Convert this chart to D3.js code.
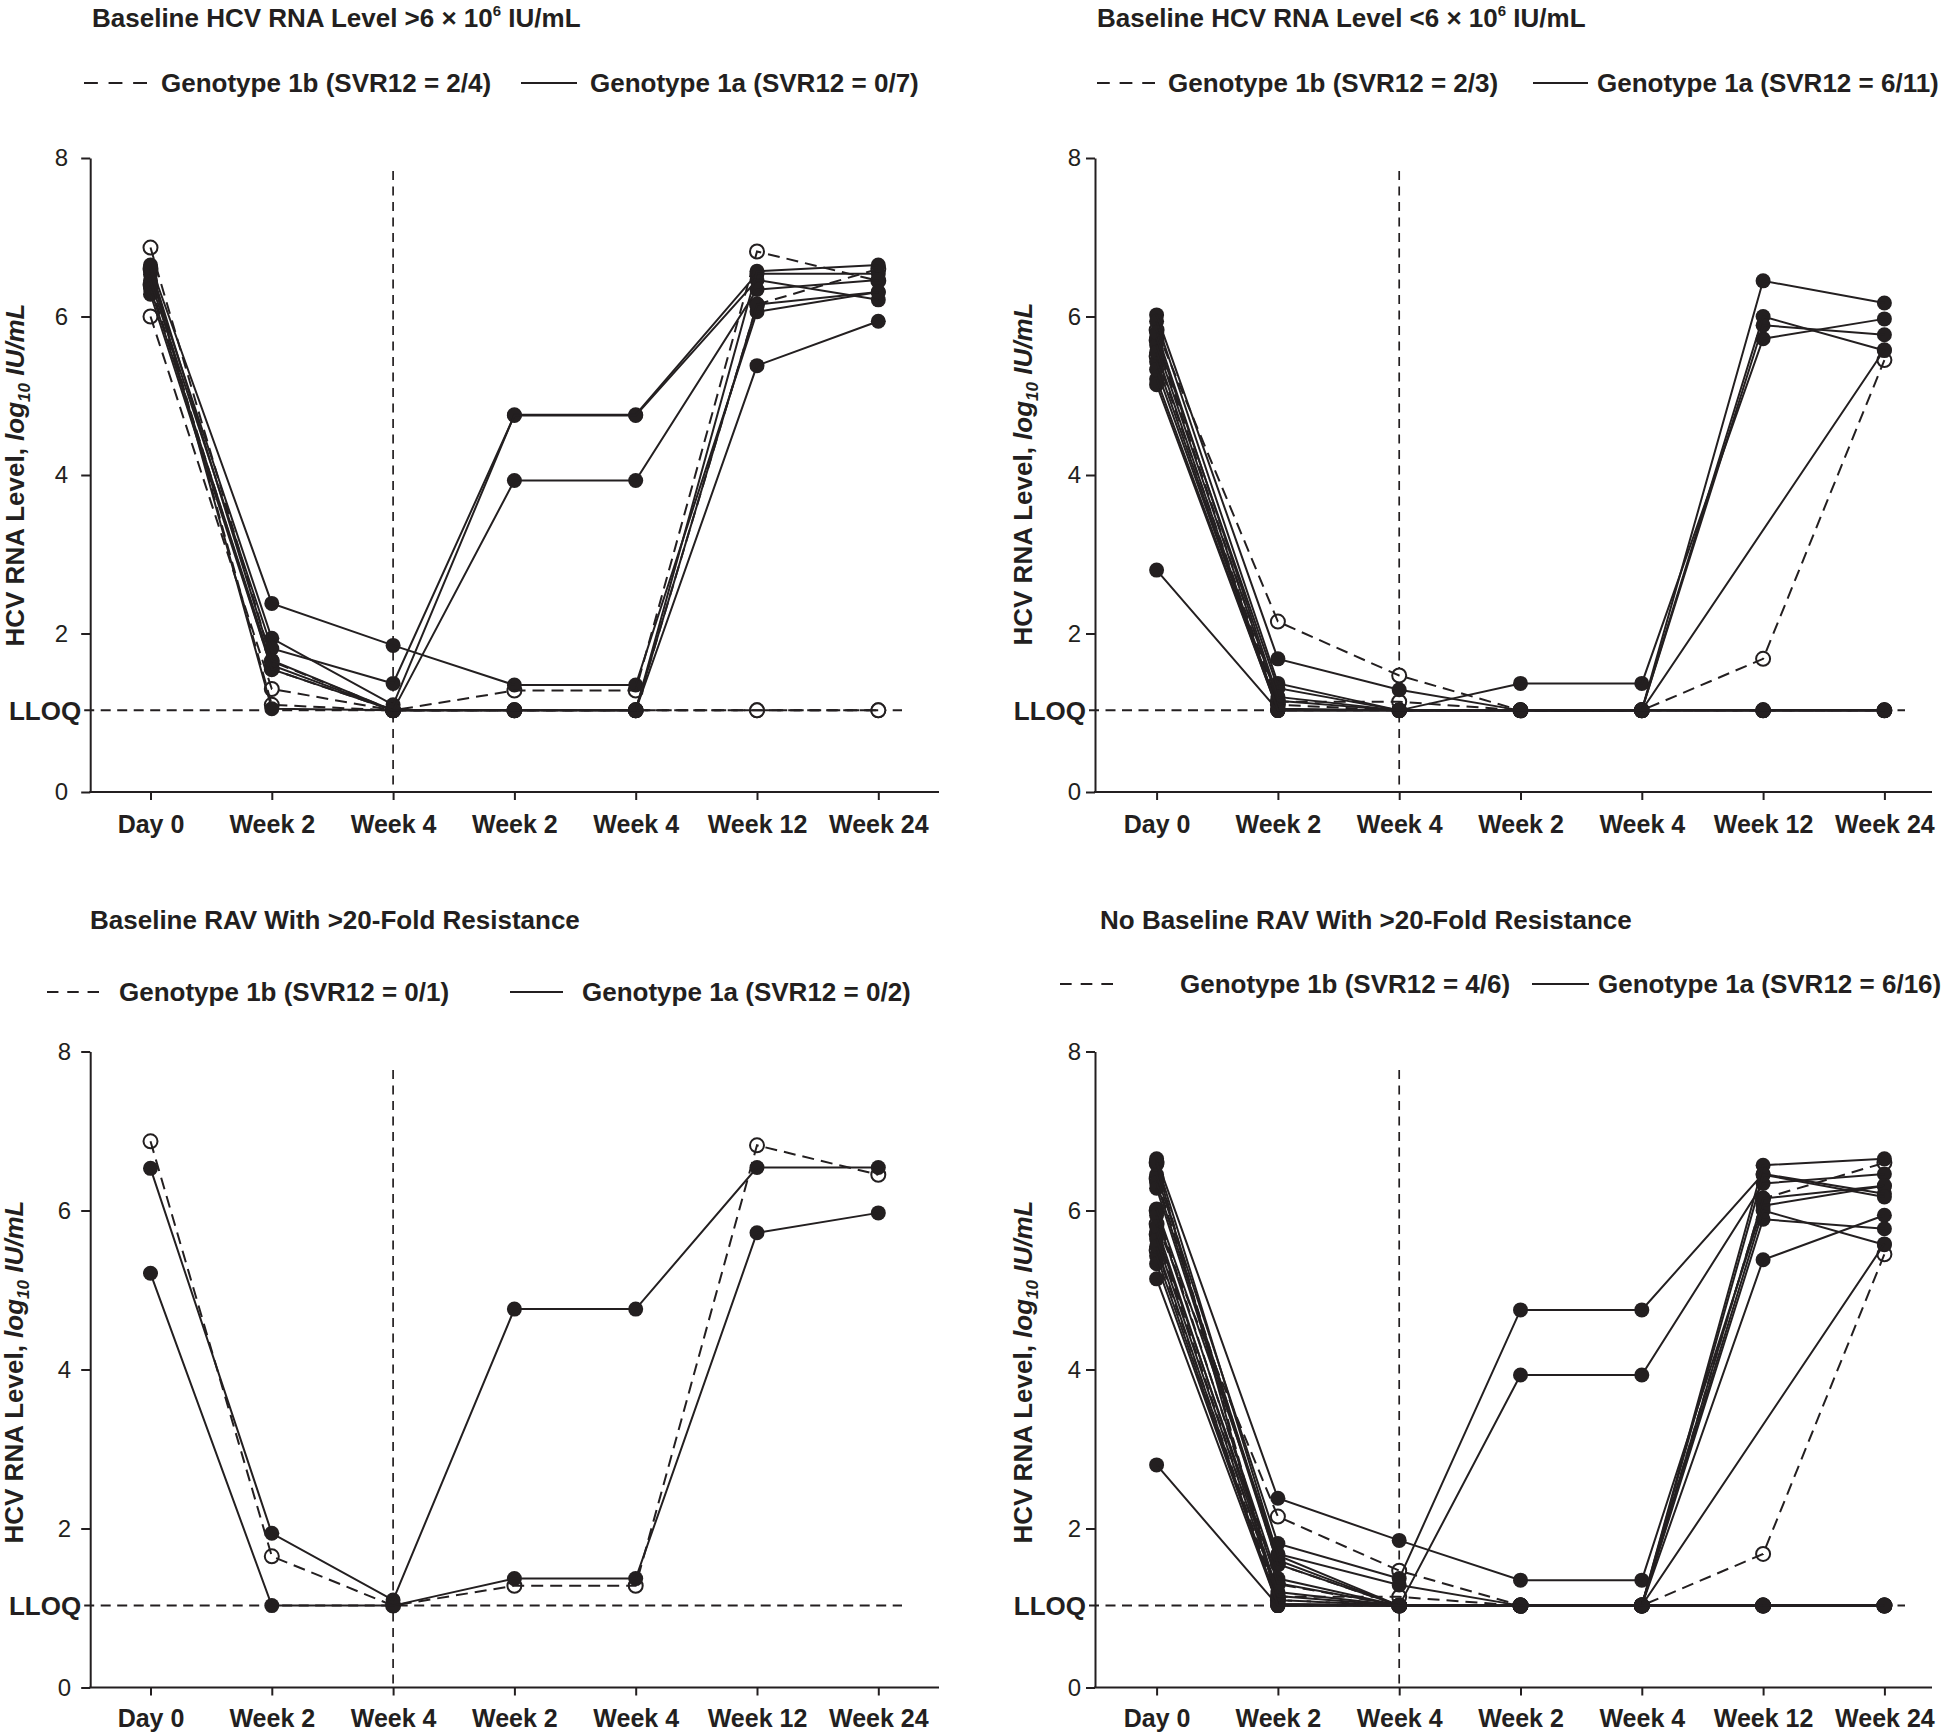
<!DOCTYPE html>
<html>
<head>
<meta charset="utf-8">
<script src="https://cdn.jsdelivr.net/npm/d3@7"></script>
<style>
html,body{margin:0;padding:0;background:#fff;}
svg{display:block;}
text{font-family:"Liberation Sans",Arial,sans-serif;fill:#231f20;}
</style>
</head>
<body>
<svg id="chart" width="1950" height="1736"></svg>
<script>
// ---------------- DATA ----------------
const LLOQ = 1.03;
const L = LLOQ;
const timepoints = ["Day 0", "Week 2", "Week 4", "Week 2", "Week 4", "Week 12", "Week 24"];
const yTicks = [0, 2, 4, 6, 8];

// values: Day 0, Wk 2, Wk 4 (on treatment), Wk 2, Wk 4, Wk 12, Wk 24 (post-treatment); null = not measured
// Genotype 1b, baseline HCV RNA >6x10^6 IU/mL
const high1b = [
  [6.87, 1.65, L, 1.28, 1.28, 6.82, 6.45],
  [6.00, 1.30, L, L, L, L, L],
  [6.60, 1.10, L, L, L, L, L],
  [6.40, 1.55, L, L, L, 6.15, 6.60]
];
const high1bRAV = [true, false, false, false];
// Genotype 1a, baseline HCV RNA >6x10^6 IU/mL
const high1a = [
  [6.53, 1.94, 1.10, 4.76, 4.76, 6.54, 6.54],
  [6.65, 2.38, 1.85, 1.35, 1.35, 6.06, 6.31],
  [6.45, 1.81, 1.37, 4.75, 4.75, 6.46, 6.21],
  [6.35, 1.60, L, 3.93, 3.93, 6.34, 6.46],
  [6.28, 1.55, L, L, L, 5.38, 5.94],
  [6.58, 1.05, L, L, L, 6.57, 6.65],
  [6.62, 1.66, L, L, L, 6.15, 6.31]
];
const high1aRAV = [true, false, false, false, false, false, false];
// Genotype 1b, baseline HCV RNA <6x10^6 IU/mL
const low1b = [
  [5.83, 2.15, 1.47, L, L, 1.68, 5.45],
  [5.70, 1.14, 1.14, L, L, L, L],
  [5.50, 1.10, L, L, L, L, L]
];
const low1bRAV = [false, false, false];
// Genotype 1a, baseline HCV RNA <6x10^6 IU/mL
const low1a = [
  [5.21, L, L, 1.37, 1.37, 5.72, 5.97],
  [6.02, 1.68, 1.29, L, L, 6.45, 6.17],
  [5.94, 1.37, L, L, L, 6.00, 5.57],
  [5.73, 1.31, L, L, L, 5.89, 5.77],
  [5.64, 1.15, L, L, L, null, 5.58],
  [5.43, L, L, L, L, L, L],
  [5.33, 1.05, L, L, L, L, L],
  [5.14, L, L, L, L, L, L],
  [2.80, L, L, L, L, L, L],
  [5.80, 1.20, L, L, L, L, L],
  [5.55, L, L, L, L, L, L]
];
const low1aRAV = [true, false, false, false, false, false, false, false, false, false, false];

const panelTitles = [
  [["Baseline HCV RNA Level >6 × 10", ""], ["6", "sup"], [" IU/mL", ""]],
  [["Baseline HCV RNA Level <6 × 10", ""], ["6", "sup"], [" IU/mL", ""]],
  [["Baseline RAV With >20-Fold Resistance", ""]],
  [["No Baseline RAV With >20-Fold Resistance", ""]]
];
const legend1b = ["Genotype 1b (SVR12 = 2/4)", "Genotype 1b (SVR12 = 2/3)", "Genotype 1b (SVR12 = 0/1)", "Genotype 1b (SVR12 = 4/6)"];
const legend1a = ["Genotype 1a (SVR12 = 0/7)", "Genotype 1a (SVR12 = 6/11)", "Genotype 1a (SVR12 = 0/2)", "Genotype 1a (SVR12 = 6/16)"];
const yLabelParts = [["HCV RNA Level, ", "normal", ""], ["log", "italic", ""], ["10", "italic", "sub"], [" IU/mL", "italic", ""]];

// ---------------- BUILD ----------------
const patients = [];
high1b.forEach((v, i) => patients.push({geno: "1b", high: true, rav: high1bRAV[i], v}));
high1a.forEach((v, i) => patients.push({geno: "1a", high: true, rav: high1aRAV[i], v}));
low1b.forEach((v, i) => patients.push({geno: "1b", high: false, rav: low1bRAV[i], v}));
low1a.forEach((v, i) => patients.push({geno: "1a", high: false, rav: low1aRAV[i], v}));

const panelFilters = [d => d.high, d => !d.high, d => d.rav, d => !d.rav];

const ink = "#231f20";
const layouts = [
  {axisX: 90.2, xFirst: 150.5, xLast: 878.3, axisEnd: 939, yBase: 792, yTop: 158, vTop: 171, lloqEnd: 902,
   titleX: 92, titleY: 27, legY: 92, dash: [84, 147], t1x: 161, solid: [521, 577], t2x: 590, ylab: [15, 475], gap: 22, xLabY: 824},
  {axisX: 1095, xFirst: 1156.6, xLast: 1884.4, axisEnd: 1932, yBase: 792, yTop: 158, vTop: 171, lloqEnd: 1905,
   titleX: 1097, titleY: 27, legY: 92, dash: [1097, 1155], t1x: 1168, solid: [1533, 1588], t2x: 1597, ylab: [1023, 474], gap: 14, xLabY: 824},
  {axisX: 90.2, xFirst: 150.5, xLast: 878.3, axisEnd: 939, yBase: 1687.5, yTop: 1051.5, vTop: 1070, lloqEnd: 902,
   titleX: 90, titleY: 929, legY: 1001, dash: [47, 99], t1x: 119, solid: [510, 563], t2x: 582, ylab: [14, 1372], gap: 19, xLabY: 1718},
  {axisX: 1095, xFirst: 1156.6, xLast: 1884.4, axisEnd: 1932, yBase: 1687.5, yTop: 1051.5, vTop: 1070, lloqEnd: 1905,
   titleX: 1100, titleY: 929, legY: 993, dash: [1060, 1113], t1x: 1180, solid: [1532, 1589], t2x: 1598, ylab: [1023, 1372], gap: 14, xLabY: 1718}
];

const svg = d3.select("#chart");

layouts.forEach((p, pi) => {
  const g = svg.append("g");
  const x = d3.scalePoint().domain(d3.range(timepoints.length)).range([p.xFirst, p.xLast]);
  const y = d3.scaleLinear().domain([0, 8]).range([p.yBase, p.yTop]);

  // title
  const t = g.append("text").attr("x", p.titleX).attr("y", p.titleY)
    .attr("font-size", 26).attr("font-weight", "bold");
  panelTitles[pi].forEach(([s, kind], k) => {
    const ts = t.append("tspan").text(s);
    if (kind === "sup") ts.attr("font-size", 15).attr("dy", -11);
    else if (k > 0 && panelTitles[pi][k - 1][1] === "sup") ts.attr("dy", 11);
  });

  // legend
  const dl = p.dash[1] - p.dash[0];
  const dd = dl * 0.22, dg = (dl - 3 * dd) / 2;
  g.append("line").attr("x1", p.dash[0]).attr("x2", p.dash[1]).attr("y1", p.legY - 9).attr("y2", p.legY - 9)
    .attr("stroke", ink).attr("stroke-width", 2).attr("stroke-dasharray", `${dd},${dg}`);
  g.append("text").attr("x", p.t1x).attr("y", p.legY).attr("font-size", 26).attr("font-weight", "bold").text(legend1b[pi]);
  g.append("line").attr("x1", p.solid[0]).attr("x2", p.solid[1]).attr("y1", p.legY - 9).attr("y2", p.legY - 9)
    .attr("stroke", ink).attr("stroke-width", 2);
  g.append("text").attr("x", p.t2x).attr("y", p.legY).attr("font-size", 26).attr("font-weight", "bold").text(legend1a[pi]);

  // reference lines
  g.append("line").attr("x1", x(2)).attr("x2", x(2)).attr("y1", p.vTop).attr("y2", p.yBase)
    .attr("stroke", ink).attr("stroke-width", 1.7).attr("stroke-dasharray", "9,6.5");
  g.append("line").attr("x1", p.axisX - 6).attr("x2", p.lloqEnd).attr("y1", y(LLOQ)).attr("y2", y(LLOQ))
    .attr("stroke", ink).attr("stroke-width", 2).attr("stroke-dasharray", "10,6.5");

  // y axis
  const ya = g.append("g").attr("transform", `translate(${p.axisX},0)`)
    .call(d3.axisLeft(y).tickValues(yTicks).tickSize(9).tickSizeOuter(0).tickPadding(p.gap - 9));
  ya.attr("font-size", null).attr("font-family", null);
  ya.select(".domain").attr("stroke", ink).attr("stroke-width", 2);
  ya.selectAll(".tick line").attr("stroke", ink).attr("stroke-width", 2);
  ya.selectAll(".tick text").style("font-size", "24px").style("font-family", '"Liberation Sans", Arial, sans-serif')
    .attr("fill", ink).style("font-weight", "normal");

  // LLOQ label
  g.append("text").attr("x", p.axisX - 9).attr("y", y(LLOQ)).attr("dy", "0.36em")
    .attr("text-anchor", "end").attr("font-size", 26).attr("font-weight", "bold").text("LLOQ");

  // x axis
  g.append("line").attr("x1", p.axisX - 1).attr("x2", p.axisEnd).attr("y1", p.yBase).attr("y2", p.yBase)
    .attr("stroke", ink).attr("stroke-width", 2);
  const xa = g.append("g").attr("transform", `translate(0,${p.yBase})`)
    .call(d3.axisBottom(x).tickFormat(i => timepoints[i]).tickSize(8).tickSizeOuter(0));
  xa.attr("font-size", null).attr("font-family", null);
  xa.select(".domain").remove();
  xa.selectAll(".tick line").attr("stroke", ink).attr("stroke-width", 2);
  xa.selectAll(".tick text").attr("y", p.xLabY - p.yBase).attr("dy", "0.36em")
    .style("font-size", "25px").style("font-weight", "bold").attr("fill", ink)
    .style("font-family", '"Liberation Sans", Arial, sans-serif');

  // y label
  const yl = g.append("text").attr("transform", `translate(${p.ylab[0]},${p.ylab[1]}) rotate(-90)`)
    .attr("text-anchor", "middle").attr("dy", "0.36em").attr("font-size", 26).attr("font-weight", "bold");
  yLabelParts.forEach(([s, style, pos], k) => {
    const ts = yl.append("tspan").text(s).attr("font-style", style);
    if (pos === "sub") ts.attr("font-size", 17).attr("dy", 6);
    else if (k > 0 && yLabelParts[k - 1][2] === "sub") ts.attr("dy", -6);
  });

  // data
  const data = patients.filter(panelFilters[pi]);
  const pts = d => d.v.map((val, i) => [i, val]).filter(q => q[1] !== null);
  const line = d3.line().x(q => x(q[0])).y(q => y(q[1]));

  const marks = g.append("g");
  // open circles (genotype 1b)
  data.filter(d => d.geno === "1b").forEach(d => {
    marks.selectAll(null).data(pts(d)).enter().append("circle")
      .attr("cx", q => x(q[0])).attr("cy", q => y(q[1])).attr("r", 7)
      .attr("fill", "#fff").attr("stroke", ink).attr("stroke-width", 2);
  });
  // filled circles (genotype 1a)
  data.filter(d => d.geno === "1a").forEach(d => {
    marks.selectAll(null).data(pts(d)).enter().append("circle")
      .attr("cx", q => x(q[0])).attr("cy", q => y(q[1])).attr("r", 7.5)
      .attr("fill", ink);
  });
  // lines
  const lines = g.append("g");
  data.forEach(d => {
    lines.append("path").attr("d", line(pts(d))).attr("fill", "none").attr("stroke", ink)
      .attr("stroke-width", 2).attr("stroke-dasharray", d.geno === "1b" ? "12,7" : null);
  });
});
</script>
</body>
</html>
